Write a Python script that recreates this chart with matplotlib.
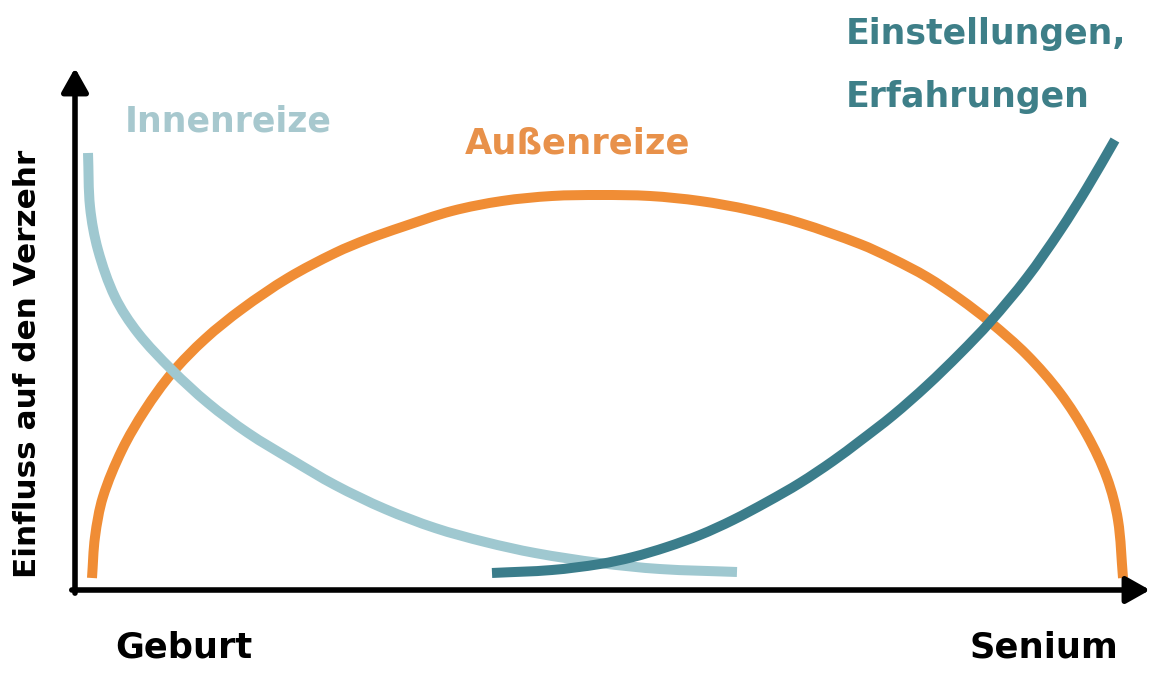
import matplotlib
matplotlib.use("Agg")
import matplotlib.pyplot as plt
import numpy as np
from matplotlib.path import Path
from matplotlib.patches import PathPatch

# ---- data (x = Lebensphase 0..100, y = Einfluss 0..100) ----
aussen_x = [1.58, 1.86, 2.60, 4.37, 6.51, 9.02, 12.09, 15.53, 19.81, 24.19, 27.26, 30.42,
            35.07, 39.72, 44.37, 48.84, 53.49, 58.14, 62.79, 67.44, 73.02, 76.09, 79.26,
            82.33, 85.12, 88.56, 91.63, 94.14, 96.00, 97.02, 97.49]
aussen_y = [2.30, 10.15, 17.82, 26.82, 34.48, 41.57, 48.08, 53.83, 59.77, 64.56, 67.24, 69.54,
            72.61, 74.52, 75.48, 75.67, 75.48, 74.52, 72.80, 70.31, 66.28, 63.41, 59.96,
            55.75, 51.34, 45.02, 37.74, 29.69, 21.46, 13.41, 2.30]

innen_x = [1.21, 1.40, 2.14, 3.72, 5.86, 9.02, 12.37, 16.09, 20.19, 24.19, 28.84, 33.49,
           38.14, 42.79, 48.84, 54.42, 61.58]
innen_y = [83.72, 73.37, 65.13, 56.13, 49.23, 42.15, 35.82, 30.08, 24.90, 20.11, 15.52, 11.88,
           9.20, 7.09, 5.17, 4.02, 3.45]

einst_x = [38.79, 44.37, 48.84, 51.91, 55.07, 58.14, 61.21, 64.37, 67.44, 70.51, 73.02,
           76.09, 79.26, 82.33, 85.12, 88.56, 91.63, 94.14, 96.74]
einst_y = [3.26, 3.83, 4.98, 6.32, 8.24, 10.54, 13.41, 16.86, 20.50, 24.71, 28.54,
           33.45, 39.18, 45.31, 51.34, 59.85, 68.83, 77.01, 86.21]

label_innen = "Innenreize"
label_aussen = "Außenreize"
label_einst = ["Einstellungen,", "Erfahrungen"]
x_labels = ["Geburt", "Senium"]
y_label = "Einfluss auf den Verzehr"

# ---- styling ----
c_orange = "#f08d35"
c_light = "#9fc8d0"
c_teal = "#3b7d8b"
W, H = 1170, 688
FONT = ["DejaVu Sans"]

fig = plt.figure(figsize=(W / 100, H / 100), dpi=100)
fig.patch.set_facecolor("white")
ax = fig.add_axes([75 / W, (H - 590) / H, 1075 / W, 522 / H])
ax.set_xlim(0, 100)
ax.set_ylim(0, 100)
ax.axis("off")


def smooth_line(xs, ys, color, lw, z):
    """Draw a smooth line through the data points (chord-length Catmull-Rom
    rendered as cubic Bezier segments in display space)."""
    P = ax.transData.transform(np.column_stack([xs, ys]))
    n = len(P)
    d = np.hypot(*np.diff(P, axis=0).T)
    t = np.concatenate([[0], np.cumsum(d)])
    M = np.zeros_like(P)
    for i in range(n):
        if i == 0:
            M[i] = (P[1] - P[0]) / (t[1] - t[0])
        elif i == n - 1:
            M[i] = (P[-1] - P[-2]) / (t[-1] - t[-2])
        else:
            M[i] = (P[i + 1] - P[i - 1]) / (t[i + 1] - t[i - 1])
    verts = [P[0]]
    codes = [Path.MOVETO]
    for i in range(n - 1):
        h = t[i + 1] - t[i]
        verts += [P[i] + M[i] * h / 3, P[i + 1] - M[i + 1] * h / 3, P[i + 1]]
        codes += [Path.CURVE4] * 3
    verts = ax.transData.inverted().transform(np.array(verts))
    patch = PathPatch(Path(verts, codes), fill=False, edgecolor=color, lw=lw,
                      capstyle="butt", joinstyle="round", zorder=z,
                      transform=ax.transData)
    ax.add_patch(patch)


lw = 7.2
smooth_line(aussen_x, aussen_y, c_orange, lw, 2)
smooth_line(innen_x, innen_y, c_light, lw, 3)
smooth_line(einst_x, einst_y, c_teal, lw, 4)

# axes arrows
arrow_kw = dict(arrowstyle="-|>,head_length=0.8,head_width=0.45", lw=4.0,
                color="black", mutation_scale=18, shrinkA=0, shrinkB=0)
ax.annotate("", xy=(0, 1.0), xytext=(0, -0.006), xycoords="axes fraction",
            textcoords="axes fraction", arrowprops=arrow_kw, annotation_clip=False)
ax.annotate("", xy=(1.0, 0), xytext=(-0.003, 0), xycoords="axes fraction",
            textcoords="axes fraction", arrowprops=arrow_kw, annotation_clip=False)


def ftext(px, py, s, **kw):
    fig.text(px / W, 1 - py / H, s, family=FONT, fontweight="bold", **kw)


ftext(125, 132, label_innen, fontsize=25, color="#a7c8ce", ha="left", va="baseline")
ftext(465, 154, label_aussen, fontsize=25.5, color="#e8914a", ha="left", va="baseline")
ftext(846, 44, label_einst[0], fontsize=25, color="#3e7f88", ha="left", va="baseline")
ftext(846, 107, label_einst[1], fontsize=25, color="#3e7f88", ha="left", va="baseline")
ftext(115, 658, x_labels[0], fontsize=25.3, color="black", ha="left", va="baseline")
ftext(969, 658, x_labels[1], fontsize=25.5, color="black", ha="left", va="baseline")
ftext(28, 364, y_label, fontsize=22.4, color="black", ha="center", va="center",
      rotation=90)

fig.savefig("out.png", dpi=100, facecolor="white")
